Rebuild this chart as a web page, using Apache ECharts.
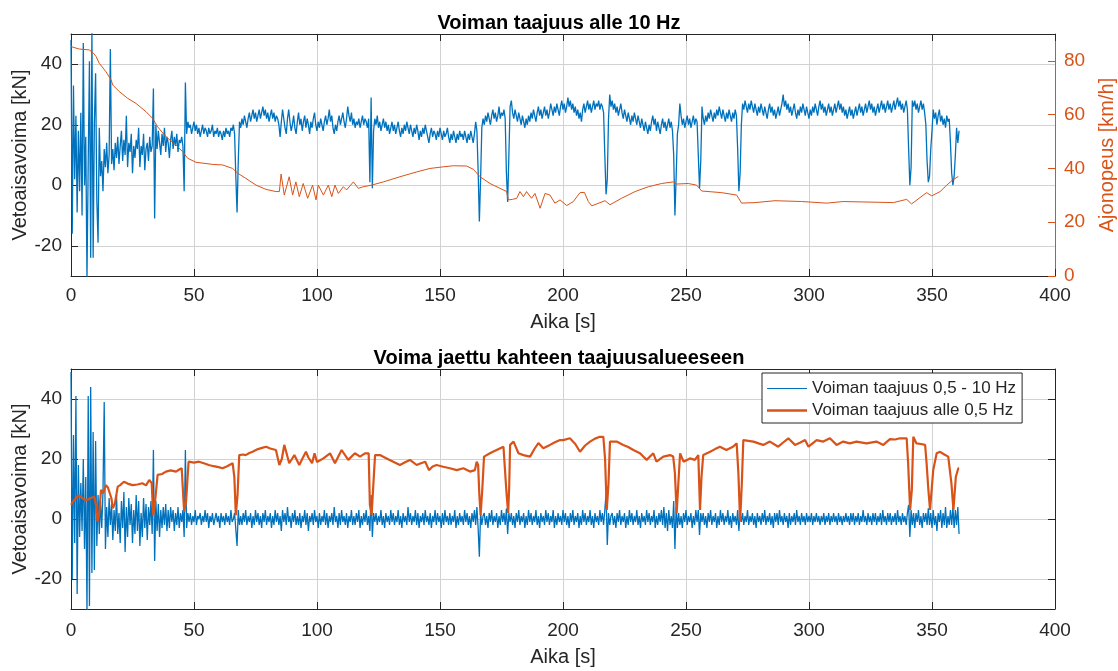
<!DOCTYPE html>
<html>
<head>
<meta charset="utf-8">
<script src="https://cdn.jsdelivr.net/npm/echarts@6/dist/echarts.min.js"></script>
<style>
html,body{margin:0;padding:0;background:#fff;}
#chart{width:1118px;height:671px;}
</style>
</head>
<body>
<div id="chart"></div>
<script>
// Sampling step of the force signals (s)
const sampleStep = 0.5;

// Top: traction force, frequencies below 10 Hz (kN), one value every 0.5 s from t = 0
const forceBelow10Hz = [
  48, -16, 33, 2, 23, -9, 18, -2, 24, -10,      // 0
  47, 0, 16, -31, 8, 41, -24, 52, -24, 21,      // 5
  37, -5, -19, 19, 3, 8, -2, 12, 6, 14,         // 10
  4, 10, 45, 7, 12, 5, 14, 9, 16, 7,            // 15
  13, 18, 8, 15, 10, 23, 6, 14, 11, 17,         // 20
  4, 13, 9, 15, 12, 19, 6, 13, 10, 17,          // 25
  5, 12, 14, 8, 16, 11, 13, 32, -11, 20,        // 30
  12, 18, 14, 10, 17, 13, 19, 11, 16, 14,       // 35
  9, 15, 18, 12, 16, 13, 17, 11, 15, 14,        // 40
  16, 13, -2, 34, 17, 21, 19, 20, 17, 19,       // 45
  21, 18, 20, 17, 19, 16, 18, 20, 17, 19,       // 50
  18, 16, 19, 17, 18, 20, 16, 18, 17, 19,       // 55
  16, 18, 17, 15, 18, 16, 19, 17, 18, 16,       // 60
  19, 18, 20, 17, 3, -9, 8, 21, 19, 22,         // 65
  20, 23, 21, 19, 22, 24, 21, 23, 25, 22,       // 70
  24, 21, 23, 25, 22, 24, 26, 23, 25, 22,       // 75
  24, 21, 23, 25, 22, 24, 21, 23, 22, 20,       // 80
  16, 21, 25, 22, 19, 17, 22, 25, 21, 18,       // 85
  20, 23, 19, 17, 21, 24, 20, 22, 18, 21,       // 90
  23, 19, 22, 20, 17, 21, 19, 22, 24, 20,       // 95
  18, 21, 19, 22, 20, 18, 21, 23, 20, 22,       // 100
  25, 21, 23, 19, 17, 20, 18, 21, 23, 20,       // 105
  22, 24, 21, 19, 22, 26, 23, 21, 24, 20,       // 110
  22, 19, 21, 20, 22, 19, 21, 23, 20, 22,       // 115
  21, 19, 22, 1, 29, -1, 18, 22, 20, 23,        // 120
  19, 21, 18, 20, 22, 19, 21, 18, 20, 17,       // 125
  19, 21, 18, 20, 17, 19, 21, 18, 16, 19,       // 130
  17, 20, 18, 21, 19, 17, 20, 18, 16, 19,       // 135
  17, 20, 18, 15, 18, 16, 19, 17, 20, 18,       // 140
  16, 14, 17, 19, 16, 18, 17, 15, 18, 16,       // 145
  19, 17, 15, 18, 16, 17, 19, 16, 14, 17,       // 150
  15, 18, 16, 14, 17, 15, 18, 16, 17, 15,       // 155
  18, 16, 14, 17, 15, 18, 16, 14, 17, 21,       // 160
  18, 5, -12, 2, 19, 22, 20, 23, 21, 24,        // 165
  22, 20, 23, 25, 22, 24, 21, 23, 26, 22,       // 170
  24, 23, 25, 22, 4, -5.5, 10, 26, 28, 24,      // 175
  22, 25, 23, 21, 24, 22, 20, 23, 21, 19,       // 180
  22, 20, 23, 21, 24, 22, 25, 23, 21, 24,       // 185
  26, 23, 25, 22, 24, 26, 23, 25, 22, 24,       // 190
  27, 25, 23, 26, 24, 27, 25, 23, 26, 28,       // 195
  25, 27, 24, 26, 29, 26, 28, 25, 27, 24,       // 200
  26, 23, 25, 22, 24, 21, 25, 27, 24, 26,       // 205
  28, 25, 27, 24, 26, 28, 25, 27, 26, 28,       // 210
  25, 27, 26, 24, 10, -3, 2, 22, 30, 26,        // 215
  28, 25, 27, 24, 26, 23, 25, 27, 24, 22,       // 220
  25, 23, 21, 24, 22, 20, 23, 21, 24, 22,       // 225
  20, 23, 21, 19, 22, 20, 18, 21, 19, 17,       // 230
  20, 18, 21, 23, 20, 22, 18, 21, 19, 17,       // 235
  20, 22, 19, 21, 18, 20, 22, 19, 21, 18,       // 240
  10, -10, 3, 17, 20, 27, 23, 20, 22, 19,       // 245
  21, 23, 20, 22, 19, 21, 23, 20, 22, 21,       // 250
  10, -1, 8, 26, 22, 20, 23, 21, 24, 22,        // 255
  25, 23, 21, 24, 22, 25, 23, 26, 24, 22,       // 260
  25, 23, 21, 24, 22, 25, 23, 21, 24, 22,       // 265
  25, 23, 12, -2, 4, 20, 27, 25, 28, 26,        // 270
  24, 27, 25, 28, 26, 24, 27, 25, 23, 26,       // 275
  24, 27, 25, 23, 26, 24, 22, 25, 27, 24,       // 280
  26, 23, 25, 22, 24, 26, 23, 25, 27, 30,       // 285
  26, 28, 25, 27, 24, 26, 23, 25, 27, 24,       // 290
  22, 25, 23, 26, 24, 27, 25, 23, 26, 24,       // 295
  22, 25, 23, 26, 24, 27, 25, 23, 26, 28,       // 300
  25, 27, 24, 26, 23, 25, 27, 24, 26, 23,       // 305
  25, 27, 24, 26, 28, 25, 27, 24, 26, 23,       // 310
  25, 22, 24, 26, 23, 25, 22, 24, 26, 23,       // 315
  25, 27, 24, 26, 23, 25, 27, 24, 26, 28,       // 320
  25, 27, 24, 26, 23, 25, 27, 24, 26, 28,       // 325
  25, 27, 24, 26, 28, 25, 27, 24, 26, 28,       // 330
  25, 27, 29, 26, 28, 25, 27, 24, 26, 28,       // 335
  25, 12, 0, 6, 28, 26, 28, 25, 27, 24,         // 340
  26, 28, 25, 27, 24, 20, 8, 1, 3, 12,          // 345
  18, 25, 22, 24, 20, 23, 25, 21, 23, 20,       // 350
  22, 19, 23, 21, 22, 14, 4, 0, 3, 10,          // 355
  19, 14, 18                                    // 360
];

// Top: driving speed (km/h), read at irregular times (s)
const speedTime = [0, 3.4, 7.4, 9, 10.2, 11.5, 14.2, 16.3, 17, 19.6, 23, 26.4, 30.5, 33.2, 35.2, 38.6, 42.7, 45.4, 47.4, 50.8,
  57.6, 61.6, 65.7, 67.8, 71.1, 75.2, 79.3, 83.3, 84.7, 85.4, 86.7, 88.7, 90.1, 91.4, 92.8, 94.4, 96.2, 98.2, 99.6, 100.5,
  102.6, 104.6, 106, 107.3, 108.7, 110.7, 112, 114.8, 116.8, 118.8, 122.2, 127, 133.7, 140.5, 145.9, 151.3, 155.4, 160.8, 163.5, 166.3,
  170.3, 174.4, 177.1, 177.8, 179.5, 181.2, 182.5, 183.9, 185.2, 187.2, 188.6, 190.7, 192.7, 194.7, 196.7, 198.8, 201.5, 204.2, 206.9, 208.7,
  210.3, 211.7, 217.1, 219.1, 223.8, 229.3, 234.7, 240.1, 244.8, 246.2, 250.9, 254.3, 256.4, 264.5, 270.6, 272.6, 278, 286.2, 297, 307.2,
  313.9, 334.3, 339.7, 341.7, 347.8, 349.9, 353.3, 356, 358.5, 360.7];
const speedValue = [85.3, 84.4, 84.1, 83, 81.6, 79.1, 76, 72.9, 71, 68.6, 66.1, 64.2, 61.1, 58.6, 55.5, 51.8, 48.7, 46.2, 43.8, 42.3,
  41.5, 41.3, 40, 38.2, 36.3, 33.8, 32.2, 31.4, 31.4, 37.9, 30.1, 36.9, 30.1, 35, 29.5, 34.4, 28.9, 33.8, 28.3, 33.8,
  30.1, 33.8, 29.5, 33.8, 30.7, 33.2, 32, 35, 32.6, 33.2, 33.8, 35, 36.9, 38.7, 40, 40.6, 41, 40.9, 39.7, 36.9,
  34.4, 32.6, 31.4, 28.3, 28.5, 28.9, 31.4, 29.5, 31.4, 28.9, 30.7, 25.2, 30.7, 30.1, 27.1, 28.3, 26.2, 27.7, 31, 31.1,
  27.7, 26.1, 28, 26.5, 28.9, 31.4, 33.2, 34.4, 35, 34.2, 34.4, 33.8, 31.6, 31, 30.1, 27.1, 27.3, 28, 27.7, 27.1,
  27.7, 27.3, 28.5, 26.8, 31, 29.8, 31.4, 33.8, 35.8, 37];

// Bottom: force band 0.5 - 10 Hz (kN), one value every 0.5 s from t = 0
const forceBand = [
  49, -20, 28, -8, 41, -25, 18, -6, 12, -4,     // 0
  20, -10, 14, -31, 41, -29, 44, -18, 29, -17,  // 5
  26, -9, 8, -5, 6, -3, 9, 39, -10, 4,          // 10
  -6, 7, -2, 5, -7, 3, -4, 8, -5, 2,            // 15
  -8, 6, -3, 9, -11, 4, -6, 7, -2, 5,           // 20
  -8, 3, -5, 8, -4, 6, -9, 2, -6, 7,            // 25
  -3, 5, -7, 4, -2, 6, -5, 23, -14, 6,          // 30
  -4, 5, -6, 3, -3, 4, -2, 5, -4, 3,            // 35
  -3, 4, -1, 3, -4, 2, -2, 4, -3, 2,            // 40
  -1, 3, -6, 23, -3, 2, -1, 2, -2, 1,           // 45
  -1, 3, -2, 1, 0, 2, -2, 1, -1, 3,             // 50
  -1, 2, -3, 1, -1, 2, -2, 0, 2, -1,            // 55
  1, -3, 2, -1, 1, -2, 2, -1, 1, -2,            // 60
  3, -1, 0, 2, 2, -9, 3, -2, 1, -2,             // 65
  2, -1, 3, -2, 1, -1, 2, -3, 1, -2,            // 70
  3, -1, 2, -2, 1, -3, 2, -1, 3, -2,            // 75
  1, -1, 2, -3, 1, -2, 3, -1, 2, -2,            // 80
  1, -4, 3, -1, 2, -2, 4, -1, 1, -3,            // 85
  2, -1, 3, -2, 1, -2, 2, -3, 1, -1,            // 90
  3, -2, 2, -4, 1, -1, 2, -2, 3, -1,            // 95
  1, -3, 2, -2, 1, -1, 3, -2, 2, -3,            // 100
  1, -1, 2, -2, 4, -1, 1, -3, 2, -2,            // 105
  3, -1, 1, -2, 2, -3, 1, -1, 3, -2,            // 110
  1, -2, 2, -1, 3, -3, 1, -2, 2, -1,            // 115
  3, -2, 1, -4, 8, -6, 2, -1, 2, -2,            // 120
  1, -1, 3, -2, 1, -3, 2, -1, 1, -2,            // 125
  3, -1, 2, -2, 1, -1, 3, -2, 1, -3,            // 130
  2, -1, 1, -2, 4, -1, 2, -2, 1, -1,            // 135
  3, -2, 2, -3, 1, -1, 2, -2, 3, -1,            // 140
  1, -2, 2, -3, 1, -1, 3, -2, 2, -1,            // 145
  1, -3, 2, -2, 3, -1, 1, -2, 2, -2,            // 150
  1, -1, 3, -3, 1, -2, 2, -1, 1, -2,            // 155
  3, -1, 2, -2, 1, -3, 2, -1, 3, -2,            // 160
  4, -3, -12.6, 2, -2, 1, 2, -2, 1, -3,         // 165
  2, -1, 3, -2, 1, -1, 2, -3, 1, -2,            // 170
  3, -1, 2, -2, 3.5, -5, 2, -1, 2, -2,          // 175
  1, -3, 2, -1, 3, -2, 1, -1, 2, -3,            // 180
  1, -2, 3, -1, 2, -2, 1, -1, 3, -2,            // 185
  1, -3, 2, -1, 1, -2, 3, -1, 2, -2,            // 190
  1, -1, 3, -3, 1, -2, 2, -1, 1, -2,            // 195
  3, -1, 2, -2, 1, -3, 2, -1, 3, -2,            // 200
  1, -1, 2, -3, 1, -2, 3, -1, 2, -2,            // 205
  1, -1, 3, -2, 1, -3, 2, -1, 1, -2,            // 210
  3, -1, 2, -2, 3, 8.6, -8.7, 2, -2, 1,         // 215
  2, -2, 1, -3, 2, -1, 3, -2, 1, -1,            // 220
  2, -3, 1, -2, 3, -1, 2, -2, 1, -1,            // 225
  3, -2, 1, -3, 2, -1, 1, -2, 3, -1,            // 230
  2, -2, 1, -1, 3, -3, 1, -2, 2, -1,            // 235
  3, -2, 4, -3, 2, -4, 3, -2, 1, -3,            // 240
  6, -10, 4, -3, 2, -2, 1, -3, 2, -1,           // 245
  3, -2, 1, -1, 2, -3, 1, -2, 3, -1,            // 250
  3, -5.3, 2, -1, 2, -2, 1, -3, 2, -1,          // 255
  3, -2, 1, -1, 2, -3, 1, -2, 3, -1,            // 260
  2, -2, 1, -1, 3, -2, 1, -3, 2, -1,            // 265
  1, -2, 3, -4, 2, -1, 2, -2, 1, -1,            // 270
  3, -2, 1, -1, 2, -2, 1, -3, 2, -1,            // 275
  1, -2, 2, -1, 3, -2, 1, -1, 2, -2,            // 280
  1, -3, 2, -1, 2, -2, 3, -1, 1, -2,            // 285
  2, -1, 1, -3, 2, -2, 1, -1, 2, -2,            // 290
  3, -1, 1, -2, 2, -1, 1, -2, 2, -1,            // 295
  1, -1, 2, -2, 1, -1, 2, -1, 1, -2,            // 300
  1, -1, 2, -2, 1, -1, 2, -2, 1, -1,            // 305
  2, -1, 1, -2, 2, -1, 1, -2, 1, -1,            // 310
  2, -1, 1, -2, 2, -1, 2, -2, 1, -1,            // 315
  2, -2, 1, -1, 3, -1, 1, -2, 2, -1,            // 320
  1, -2, 2, -1, 2, -2, 1, -1, 2, -2,            // 325
  3, -1, 1, -2, 2, -1, 2, -2, 1, -1,            // 330
  2, -2, 3, -1, 1, -2, 2, -1, 1, -2,            // 335
  2, 4.7, -6, 3, -2, 2, -3, 2, -1, 3,           // 340
  -2, 1, -3, 2, -1, 2, -2, 3.6, -2, 2,          // 345
  -3, 3, -2, 1, -4, 2, -1, 3, -3, 2,            // 350
  -2, 4, -3, 1, -2, 3, -2, 4, -3, 3,            // 355
  -2, 4, -5                                     // 360
];

// Bottom: force below 0.5 Hz (kN), read at irregular times (s)
const lowTime = [0, 1, 2, 3, 4, 5, 6, 7, 8, 9.5, 10.3, 10.8, 11.5, 12.2, 13, 14.2, 15, 15.8, 16.4, 17,
  17.8, 19, 20, 21.5, 23, 25, 27, 29, 30.5, 31.8, 32.8, 33.4, 34.2, 35.2, 37, 38.6, 40.5, 42.7, 44, 45,
  45.6, 46, 46.8, 47.8, 50, 52, 54, 56, 58, 60, 61.6, 63.5, 65.7, 66.4, 67, 67.7, 68.4, 70, 71, 72.5,
  73.8, 76, 78, 79.3, 81, 83.3, 84.7, 85.7, 86.7, 87.6, 88.7, 89.8, 90.8, 92.8, 94, 95.5, 96.5, 98, 99, 100,
  102.6, 105.3, 107.3, 110, 112.7, 115.4, 117.5, 119.5, 121, 121.5, 122.2, 122.8, 123.6, 125.6, 128.3, 131, 133.7, 136, 137.8, 140.5,
  142, 144, 145.5, 147, 148.6, 151.3, 154, 156.8, 159.5, 162.2, 164.2, 164.9, 165.5, 166, 166.5, 167.2, 167.9, 170.3, 173, 175.8,
  176.5, 177, 177.7, 178.1, 178.5, 179.9, 181.9, 183.9, 186.6, 188.5, 190, 192, 194.7, 196.5, 198.8, 200.1, 202.8, 205, 206.9, 209,
  211, 213, 215, 216.4, 217.1, 217.8, 218.5, 219.1, 221.8, 224.5, 226.5, 228.6, 231.3, 234, 236.7, 238, 240.8, 243.5, 244.8, 245.5,
  246.2, 246.9, 247.6, 249, 251.6, 253.6, 255, 255.7, 256.3, 257, 259.8, 261.8, 263.8, 266.4, 269.1, 270.6, 271.3, 272, 272.7, 273.3,
  274, 277.4, 279.5, 281.4, 284.1, 287.5, 289.5, 291.6, 294.3, 296.5, 298.4, 299.8, 303.1, 305.8, 308.5, 311.2, 313.9, 316.6, 319.3, 323.4,
  327.4, 330.2, 332.9, 335, 337, 339.7, 340.3, 341.1, 341.8, 342.4, 343.7, 345.5, 347.2, 347.8, 348.5, 349.2, 350.5, 351.9, 353.3, 355,
  356.6, 357.9, 358.7, 359.7, 360.7, 361];
const lowValue = [4.7, 6, 6.9, 7.8, 7.4, 6.8, 6.3, 6.5, 7, 7.4, 4, -0.9, 2, 9.7, 8.5, 11.3, 10.5, 11, 7, 3.6,
  5, 10.8, 11.3, 12.4, 11.8, 11.3, 11.5, 11.9, 11.2, 13, 12, 1.3, 6, 14.7, 15, 15.8, 16.2, 15.8, 16.5, 16.9,
  8, 2.4, 6, 19.1, 18.8, 19.1, 18.6, 18, 17.6, 17.3, 16.9, 17.6, 18.6, 14, 1.3, 8, 21.3, 21.5, 21.3, 22,
  22.4, 23.3, 23.8, 24.1, 23.5, 23, 18, 20, 24.7, 22, 18.6, 20, 21.3, 18, 20, 22.4, 20.5, 18.6, 21.9, 19,
  20.2, 21.9, 18.6, 23, 19.7, 21.9, 20.8, 21.9, 21.9, 4.7, 1.3, 10, 21.3, 21.3, 20.2, 19.1, 18, 19, 19.7, 18,
  18.5, 19.1, 16.3, 17.5, 18, 17.4, 16.9, 16.3, 16.9, 15.8, 16.3, 19.1, 18, 8, 1.3, 10, 20.8, 21.9, 23, 24.1,
  24.3, 9.1, 2, 10, 24.7, 25.8, 21.9, 21.3, 20.8, 23.5, 25.3, 23.6, 24.7, 25.5, 26.3, 26.3, 26.9, 25, 22.4, 24.5,
  25.8, 26.8, 27.4, 27.4, 20, 3, 12, 25.8, 25.8, 24.7, 24, 23, 21.9, 19.7, 21.9, 19.1, 20.8, 21.3, 20.8, 15.2,
  1.9, 12, 21.9, 19.1, 20.2, 19.7, 21.3, 3, 14, 21.3, 22.4, 23.3, 24.1, 23, 24.1, 25.2, 15.2, -0.9, 12, 26.3,
  26.9, 25.8, 25.2, 24.7, 25.8, 24.1, 25.5, 26.9, 24.7, 25.5, 26.3, 24.1, 26.3, 25.8, 26.9, 24.7, 25.8, 25.2, 25.8, 25.2,
  25.8, 24.7, 26.6, 26.5, 26.9, 26.9, 18.6, 3, 9.7, 27.4, 25.2, 25, 24.7, 18.6, 10, 3, 16.3, 21.9, 22.4, 21.5,
  20.8, 11.9, 3, 14.1, 16.9, 16.9];

// Axis ticks
const timeTicks = { min: 0, max: 400, step: 50 };
const forceTickValues = [-20, 0, 20, 40];
const forceRange = { min: -30, max: 50 };
const speedRange = { min: 0, max: 90, step: 20 };

const BLUE = '#0072BD';
const ORANGE = '#D95319';
const INK = '#262626';
const GRID = '#d2d2d2';
const FONT = "'Liberation Sans', Arial, Helvetica, sans-serif";

const toPairs = (vals) => vals.map((v, i) => [i * sampleStep, v]);
const zipPairs = (ts, vs) => ts.map((t, i) => [t, vs[i]]);

function xAxisBottom(gridIndex, labelMargin, nameGap) {
  return {
    type: 'value', gridIndex, position: 'bottom',
    min: timeTicks.min, max: timeTicks.max, interval: timeTicks.step,
    name: 'Aika [s]', nameLocation: 'middle', nameGap,
    nameTextStyle: { fontFamily: FONT, fontSize: 20, color: INK },
    axisLine: { show: true, onZero: false, lineStyle: { color: INK, width: 1 } },
    axisTick: { show: true, inside: true, length: 7, lineStyle: { color: INK } },
    axisLabel: { fontFamily: FONT, fontSize: 19, color: INK, margin: labelMargin },
    splitLine: { show: true, lineStyle: { color: GRID, width: 1 } }
  };
}
function xAxisTop(gridIndex) {
  return {
    type: 'value', gridIndex, position: 'top',
    min: timeTicks.min, max: timeTicks.max, interval: timeTicks.step,
    axisLine: { show: true, onZero: false, lineStyle: { color: INK, width: 1 } },
    axisTick: { show: true, inside: true, length: 7, lineStyle: { color: INK } },
    axisLabel: { show: false },
    splitLine: { show: false }
  };
}
function forceAxis(gridIndex, position, withLabels) {
  return {
    type: 'value', gridIndex, position,
    min: forceRange.min, max: forceRange.max, interval: 10,
    name: withLabels ? 'Vetoaisavoima [kN]' : '', nameLocation: 'middle', nameGap: 41, nameRotate: 90,
    nameMoveOverlap: false,
    nameTextStyle: { fontFamily: FONT, fontSize: 20, color: INK },
    axisLine: { show: true, onZero: false, lineStyle: { color: INK, width: 1 } },
    axisTick: { show: true, inside: true, length: 7, customValues: forceTickValues, lineStyle: { color: INK } },
    axisLabel: { show: withLabels, customValues: forceTickValues, fontFamily: FONT, fontSize: 19, color: INK, margin: 9 },
    splitLine: { show: withLabels, lineStyle: { color: GRID, width: 1 } }
  };
}

const option = {
  animation: false,
  backgroundColor: '#ffffff',
  textStyle: { fontFamily: FONT },
  title: [
    { text: 'Voiman taajuus alle 10 Hz', left: 'center', top: 8,
      textStyle: { fontFamily: FONT, fontSize: 20, fontWeight: 'bold', color: '#000' } },
    { text: 'Voima jaettu kahteen taajuusalueeseen', left: 'center', top: 343,
      textStyle: { fontFamily: FONT, fontSize: 20, fontWeight: 'bold', color: '#000' } }
  ],
  legend: {
    data: [
      { name: 'Voiman taajuus 0,5 - 10 Hz', icon: 'path://M0,0H40V1H0Z' },
      { name: 'Voiman taajuus alle 0,5 Hz', icon: 'path://M0,0H40V2.6H0Z' }
    ],
    orient: 'vertical', left: 762, top: 373,
    backgroundColor: '#ffffff', borderColor: INK, borderWidth: 1, borderRadius: 0,
    padding: [7, 6, 4, 5], itemWidth: 40, itemHeight: 20, itemGap: 5,
    textStyle: { fontFamily: FONT, fontSize: 17, color: INK },
    selectedMode: false
  },
  grid: [
    { left: 71, top: 34, width: 984, height: 242, outerBoundsMode: 'none', containLabel: false },
    { left: 71, top: 369, width: 984, height: 240, outerBoundsMode: 'none', containLabel: false }
  ],
  xAxis: [xAxisBottom(0, 10, 36), xAxisTop(0), xAxisBottom(1, 12, 38), xAxisTop(1)],
  yAxis: [
    forceAxis(0, 'left', true),
    {
      type: 'value', gridIndex: 0, position: 'right',
      min: speedRange.min, max: speedRange.max, interval: speedRange.step,
      name: 'Ajonopeus [km/h]', nameLocation: 'middle', nameGap: 42, nameRotate: 90,
      nameMoveOverlap: false,
      nameTextStyle: { fontFamily: FONT, fontSize: 20, color: ORANGE },
      axisLine: { show: true, onZero: false, lineStyle: { color: ORANGE, width: 1 } },
      axisTick: { show: true, inside: true, length: 7, lineStyle: { color: ORANGE } },
      axisLabel: { fontFamily: FONT, fontSize: 19, color: ORANGE, margin: 9, showMaxLabel: false },
      splitLine: { show: false }
    },
    forceAxis(1, 'left', true),
    forceAxis(1, 'right', false)
  ],
  series: [
    {
      name: 'Voima alle 10 Hz', type: 'line', xAxisIndex: 0, yAxisIndex: 0,
      data: toPairs(forceBelow10Hz), showSymbol: false, symbol: 'none',
      lineStyle: { color: BLUE, width: 1.3 }, itemStyle: { color: BLUE }, z: 3
    },
    {
      name: 'Ajonopeus', type: 'line', xAxisIndex: 0, yAxisIndex: 1,
      data: zipPairs(speedTime, speedValue), showSymbol: false, symbol: 'none',
      lineStyle: { color: ORANGE, width: 1 }, itemStyle: { color: ORANGE }, z: 4
    },
    {
      name: 'Voiman taajuus 0,5 - 10 Hz', type: 'line', xAxisIndex: 2, yAxisIndex: 2,
      data: toPairs(forceBand), showSymbol: false, symbol: 'none',
      lineStyle: { color: BLUE, width: 1.3 }, itemStyle: { color: BLUE }, z: 3
    },
    {
      name: 'Voiman taajuus alle 0,5 Hz', type: 'line', xAxisIndex: 2, yAxisIndex: 2,
      data: zipPairs(lowTime, lowValue), showSymbol: false, symbol: 'none',
      lineStyle: { color: ORANGE, width: 2.2 }, itemStyle: { color: ORANGE }, z: 4
    }
  ]
};

const chart = echarts.init(document.getElementById('chart'), null, { renderer: 'canvas' });
chart.setOption(option);
</script>
</body>
</html>
